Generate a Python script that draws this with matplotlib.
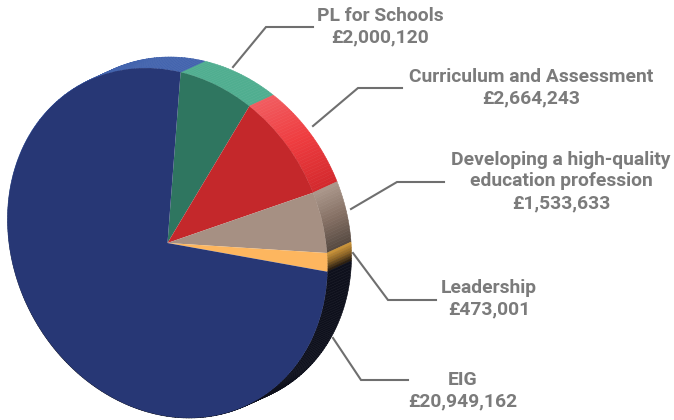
import numpy as np
import matplotlib as mpl
mpl.use('Agg')
import matplotlib.pyplot as plt
from matplotlib.colors import LinearSegmentedColormap
from matplotlib.transforms import Affine2D

labels = ['PL for Schools', 'Curriculum and Assessment',
          'Developing a high-quality\neducation profession', 'Leadership', 'EIG']
amounts = [2000120, 2664243, 1533633, 473001, 20949162]

face_colors = ['#2f7660', '#c4282b', '#a69083', '#fdb65f', '#273775']
# colours along the outer rim of each slice, clockwise
rim_colors = [['#50ae90', '#50ae90'],
              ['#f15c60', '#ef3d40', '#d42a2e'],
              ['#ab978b', '#857064', '#574a42'],
              ['#c89238', '#8a6225', '#2e2010'],
              ['#0e101c', '#0e101c', '#0e101c', '#4364ae', '#4364ae']]

plt.rcParams['font.family'] = ['Roboto', 'DejaVu Sans']

fig = plt.figure(figsize=(6.74, 4.2), dpi=100)
ax = fig.add_axes([0, 0, 1, 1])

wedges, _ = ax.pie(amounts, startangle=85.3, counterclock=False, colors=face_colors,
                   wedgeprops={'linewidth': 0})

# the disc is a sheared ellipse in pixel coordinates, rim is the same shifted back
skew = np.deg2rad(7.8)
rx, ry = 160, 175
face = Affine2D.from_values(rx, ry * np.sin(skew), 0, -ry * np.cos(skew), 167.5, 243)
shift = Affine2D().translate(24, -11)

for w in wedges:
    w.set_transform(face + ax.transData)
    w.set_zorder(5)

for w, cols in zip(wedges, rim_colors):
    cmap = LinearSegmentedColormap.from_list('rim', cols)
    n = int(w.theta2 - w.theta1) + 1
    edges = np.linspace(w.theta2, w.theta1, n + 1)
    for i in range(n):
        t = np.deg2rad(np.linspace(edges[i], edges[i + 1], 4))
        arc = np.column_stack([np.cos(t), np.sin(t)])
        front = face.transform(arc)
        back = shift.transform(front)
        c = cmap(i / max(n - 1, 1))
        ax.fill(np.r_[front[:, 0], back[::-1, 0]], np.r_[front[:, 1], back[::-1, 1]],
                color=c, lw=0.4, zorder=2)

ax.set_aspect('auto')
ax.set_xlim(0, 674)
ax.set_ylim(420, 0)
ax.axis('off')

# leader lines
leaders = [[(233, 67), (266, 27), (313, 27)],
           [(313, 126), (358, 88), (402, 88)],
           [(351, 209), (397, 182), (444, 182)],
           [(353, 253), (388, 300), (436, 300)],
           [(333, 338), (361, 380), (408, 380)]]
for pts in leaders:
    xs, ys = zip(*pts)
    ax.plot(xs, ys, color='#6f6f6f', lw=1.5, solid_joinstyle='miter', zorder=6)

# label block centres
label_pos = [(380, 26.5), (531, 88), (561, 181.5), (489, 299), (463, 391)]
for name, val, (x, y) in zip(labels, amounts, label_pos):
    ax.text(x, y, f'{name}\n£{val:,}', ha='center', va='center', fontsize=13.9,
            fontweight='bold', color='#7b7b7b', linespacing=1.27)

fig.savefig('out.png', dpi=100)
